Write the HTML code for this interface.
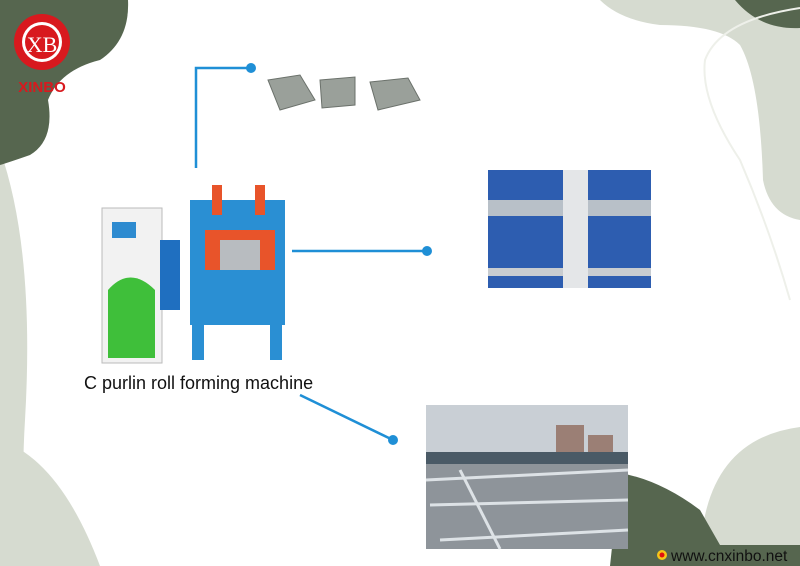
<!DOCTYPE html><html><head><style>body{margin:0}svg{display:block}</style></head><body>
<svg width="800" height="566" viewBox="0 0 800 566" xmlns="http://www.w3.org/2000/svg" font-family="Liberation Sans, sans-serif">
<rect width="800" height="566" fill="#fff"/>
<path d="M0,150 Q35,250 25,420 Q20,500 30,566 L0,566Z" fill="#d6dbd0"/>
<path d="M0,0 H128 Q130,40 100,60 Q60,70 48,100 Q55,140 30,155 Q10,162 0,165Z" fill="#56664f"/>
<path d="M600,0 H800 V220 Q770,215 763,180 Q760,80 740,45 Q720,25 660,25 Q620,20 600,0Z" fill="#d6dbd0"/>
<path d="M735,0 H800 V28 Q760,30 735,0Z" fill="#56664f"/>
<path d="M800,8 Q720,20 705,60 Q700,100 740,160 Q770,230 790,300" stroke="#eef0ea" stroke-width="2" fill="none"/>
<path d="M700,566 Q700,440 800,427 V566Z" fill="#d6dbd0"/>
<path d="M620,473 Q660,480 700,510 L720,545 H800 V566 H610Z" fill="#56664f"/>
<path d="M0,440 Q60,460 100,566 L0,566Z" fill="#d6dbd0"/>
<!-- logo -->
<circle cx="42" cy="42" r="28" fill="#d8191e"/>
<circle cx="42" cy="42" r="20" fill="#fff"/>
<circle cx="42" cy="42" r="17" fill="#d8191e"/>
<text x="42" y="52" font-size="22" font-family="Liberation Serif,serif" fill="#fff" text-anchor="middle">XB</text>
<text x="42" y="92" font-size="15" font-weight="bold" fill="#d8191e" text-anchor="middle">XINBO</text>
<!-- connectors -->
<g stroke="#1f8fd6" stroke-width="2.5" fill="none"><path d="M196,168 V68 H250"/><path d="M292,251 H427"/><path d="M300,395 L393,440"/></g>
<g fill="#1f8fd6"><circle cx="251" cy="68" r="5"/><circle cx="427" cy="251" r="5"/><circle cx="393" cy="440" r="5"/></g>
<!-- C profiles -->
<g fill="#9aa09a" stroke="#6b716b"><path d="M268,80 L300,75 L315,100 L280,110 Z"/><path d="M320,80 L355,77 L355,105 L322,108Z"/><path d="M370,82 L408,78 L420,100 L378,110Z"/></g>
<!-- photo 2 -->
<rect x="488" y="170" width="163" height="118" fill="#2d5db0"/>
<rect x="488" y="200" width="163" height="16" fill="#b8c0c8"/>
<rect x="488" y="268" width="163" height="8" fill="#c8ccd0"/>
<rect x="563" y="170" width="25" height="118" fill="#e4e6e8"/>
<!-- photo 3 -->
<rect x="426" y="405" width="202" height="144" fill="#8e949a"/>
<rect x="426" y="405" width="202" height="48" fill="#c9cfd5"/>
<rect x="556" y="425" width="28" height="28" fill="#9b7f75"/>
<rect x="588" y="435" width="25" height="18" fill="#9b7f75"/>
<rect x="426" y="452" width="202" height="12" fill="#4a5a66"/>
<g stroke="#dde2e6" stroke-width="3"><path d="M426,480 L628,470"/><path d="M430,505 L628,500"/><path d="M440,540 L628,530"/><path d="M460,470 L500,549"/></g>
<!-- machine -->
<rect x="102" y="208" width="60" height="155" fill="#f2f2f2" stroke="#bbb"/>
<rect x="112" y="222" width="24" height="16" fill="#2e8bd0"/>
<path d="M108,290 Q130,265 155,290 V358 H108Z" fill="#3fbf3a"/>
<rect x="160" y="240" width="20" height="70" fill="#1f6fc0"/>
<rect x="190" y="200" width="95" height="105" fill="#2a8fd3"/>
<rect x="212" y="185" width="10" height="30" fill="#e8542a"/><rect x="255" y="185" width="10" height="30" fill="#e8542a"/>
<rect x="205" y="230" width="70" height="40" fill="#e8542a"/>
<rect x="220" y="240" width="40" height="30" fill="#b8bcc0"/>
<rect x="190" y="305" width="95" height="20" fill="#2a8fd3"/>
<rect x="192" y="325" width="12" height="35" fill="#2a8fd3"/><rect x="270" y="325" width="12" height="35" fill="#2a8fd3"/>
<text x="84" y="389" font-size="18" fill="#111">C purlin roll forming machine</text>
<circle cx="662" cy="555" r="5" fill="#f5c518"/><circle cx="662" cy="555" r="2.5" fill="#e01010"/>
<text x="671" y="561" font-size="15.5" fill="#111">www.cnxinbo.net</text>
</svg></body></html>
